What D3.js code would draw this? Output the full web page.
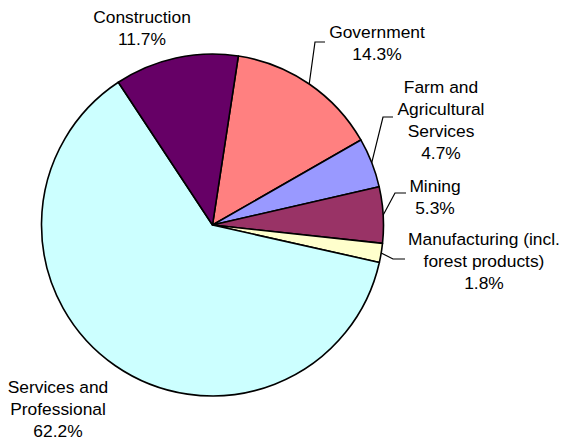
<!DOCTYPE html>
<html>
<head>
<meta charset="utf-8">
<style>
  body { margin: 0; background: #fff; }
  text { font-family: "Liberation Sans", Arial, sans-serif; font-size: 17.4px; fill: #000; }
</style>
</head>
<body>
<svg id="chart" width="566" height="440"></svg>
<script src="https://d3js.org/d3.v7.min.js"></script>
<script>
// data (pie order, clockwise from the Government slice)
const categories = ["Government", "Farm and Agricultural Services", "Mining",
  "Manufacturing (incl. forest products)", "Services and Professional", "Construction"];
const shares = [14.3, 4.7, 5.3, 1.8, 62.2, 11.7];
const colors = ["#FF8080", "#9999FF", "#993366", "#FFFFCC", "#CCFFFF", "#660066"];
// label text lines (last line is the percent)
const labelLines = [
  ["Government"],
  ["Farm and", "Agricultural", "Services"],
  ["Mining"],
  ["Manufacturing (incl.", "forest products)"],
  ["Services and", "Professional"],
  ["Construction"]
];

// layout: label anchor (x centre, first baseline), leader elbow (x,y) and end x, or null
const labelPos = [
  {x: 377, y: 38, elbow: [315, 42], end: 325},
  {x: 441, y: 93, elbow: [383, 117], end: 393},
  {x: 435, y: 192, elbow: [395, 193], end: 406},
  {x: 484, y: 245, elbow: [393, 259], end: 405},
  {x: 58, y: 393, elbow: null},
  {x: 142, y: 23, elbow: null}
];

const svg = d3.select("#chart");
const cx = 212.5, cy = 225, r = 171;
const lineH = 22;

const startDeg = 8.7;
const pie = d3.pie().sort(null).value(d => d)
  .startAngle(startDeg * Math.PI / 180)
  .endAngle((startDeg + 360) * Math.PI / 180);
const arcs = pie(shares);
const arc = d3.arc().innerRadius(0).outerRadius(r);

const g = svg.append("g").attr("transform", `translate(${cx},${cy})`);
g.selectAll("path")
  .data(arcs)
  .join("path")
  .attr("d", arc)
  .attr("fill", (d, i) => colors[i])
  .attr("stroke", "#000")
  .attr("stroke-width", 1.6)
  .attr("stroke-linejoin", "round");

// leader lines
arcs.forEach((d, i) => {
  const p = labelPos[i];
  if (!p.elbow) return;
  const mid = (d.startAngle + d.endAngle) / 2;
  const sx = cx + r * Math.sin(mid), sy = cy - r * Math.cos(mid);
  svg.append("polyline")
    .attr("points", [[sx, sy], p.elbow, [p.end, p.elbow[1]]].map(q => q.join(",")).join(" "))
    .attr("fill", "none")
    .attr("stroke", "#000")
    .attr("stroke-width", 1.2);
});

// labels
categories.forEach((c, i) => {
  const p = labelPos[i];
  const lines = labelLines[i].concat([d3.format(".1f")(shares[i]) + "%"]);
  const t = svg.append("text").attr("text-anchor", "middle");
  lines.forEach((ln, j) => {
    t.append("tspan").attr("x", p.x).attr("y", p.y + j * lineH).text(ln);
  });
});
</script>
</body>
</html>
